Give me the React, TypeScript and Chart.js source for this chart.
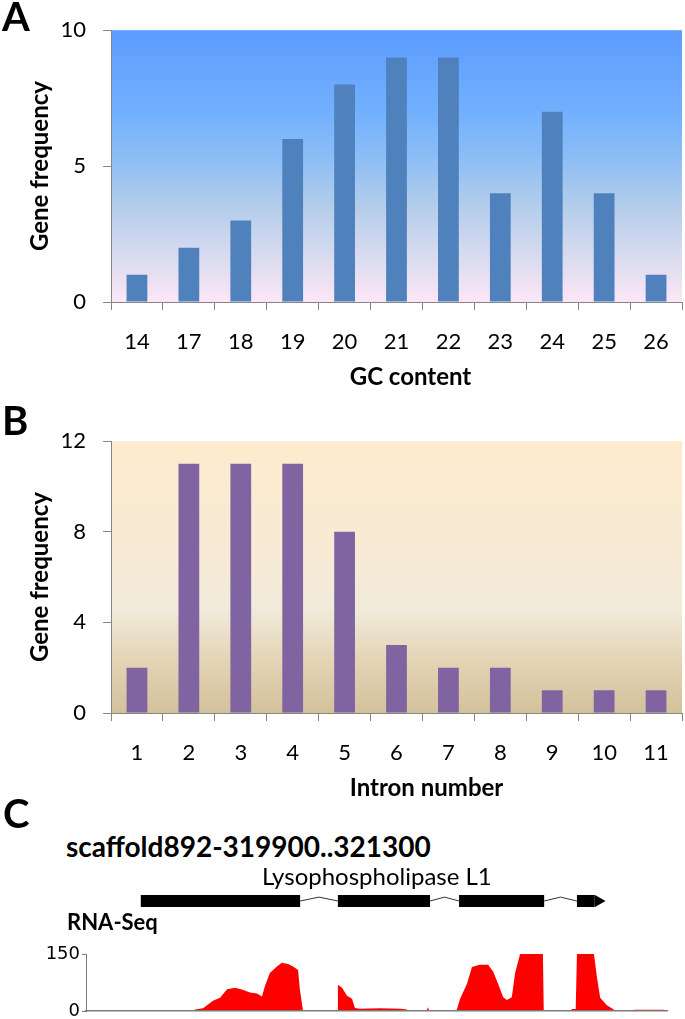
import React, { useEffect, useRef } from 'react';
import { Chart, registerables } from 'chart.js';

Chart.register(...registerables);

// ---------- Panel A data ----------
const gcContent = ['14', '17', '18', '19', '20', '21', '22', '23', '24', '25', '26'];
const gcGeneFrequency = [1, 2, 3, 6, 8, 9, 9, 4, 7, 4, 1];
const gcAxisMax = 10;
const gcAxisStep = 5;

// ---------- Panel B data ----------
const intronNumber = ['1', '2', '3', '4', '5', '6', '7', '8', '9', '10', '11'];
const intronGeneFrequency = [2, 11, 11, 11, 8, 3, 2, 2, 1, 1, 1];
const intronAxisMax = 12;
const intronAxisStep = 4;

// ---------- Panel C data ----------
const regionStart = 319900;
const regionEnd = 321300;
const exonStarts = [320032, 320507, 320799, 321083];
const exonEnds = [320416, 320729, 321004, 321126];
const arrowHeadPos = 321135;
const coverageMax = 150;
const coveragePos = [
  319900, 320160, 320163, 320182, 320206, 320223, 320240, 320259, 320278, 320295,
  320312, 320324, 320331, 320343, 320360, 320372, 320387, 320399, 320411, 320415,
  320423, 320505, 320507, 320517, 320529, 320541, 320548, 320560, 320608, 320657,
  320673, 320675, 320720, 320724, 320727, 320792, 320794, 320801, 320818, 320830,
  320849, 320869, 320881, 320893, 320905, 320914, 320926, 320934, 320946, 321001,
  321003, 321068, 321071, 321080, 321083, 321124, 321131, 321139, 321155, 321170,
  321175, 321218, 321220, 321293, 321295, 321300,
];
const coverageVal = [
  0, 0, 4, 7, 27, 35, 57, 61, 56, 49,
  46, 38, 65, 100, 117, 127, 124, 117, 108, 60,
  0, 0, 69, 61, 40, 32, 8, 6, 7, 6,
  4, 0, 0, 10, 0, 0, 5, 31, 72, 116,
  122, 122, 104, 72, 37, 29, 36, 100, 150, 150,
  0, 0, 5, 5, 150, 150, 90, 35, 15, 5,
  0, 0, 3, 3, 0, 0,
];

// ---------- styles ----------
const FONT = 'Lato';
const axisGray = '#868686';
const gcStops: [number, string][] = [
  [0, '#5c9cff'],
  [0.3, '#72b0fd'],
  [0.47, '#8cbef5'],
  [0.65, '#b4cdeb'],
  [0.85, '#dcdcf0'],
  [1, '#fce6f6'],
];
const intronStops: [number, string][] = [
  [0, '#fdebcd'],
  [0.45, '#f6ebd6'],
  [0.62, '#f1eada'],
  [0.8, '#e3d5b6'],
  [1, '#d3c19b'],
];

const bgGradient = {
  id: 'bgGradient',
  beforeDraw(chart: any, _args: any, opts: any) {
    const { ctx, chartArea } = chart;
    if (!chartArea || !opts || !opts.stops) return;
    const { left, top, right, bottom } = chartArea;
    const g = ctx.createLinearGradient(0, top, 0, bottom);
    opts.stops.forEach(([o, c]: [number, string]) => g.addColorStop(o, c));
    ctx.save();
    ctx.fillStyle = g;
    ctx.fillRect(left, top, right - left, bottom - top);
    ctx.restore();
  },
};

// x-axis title drawn under the category axis, shifted as in the original figure
const xAxisTitle = {
  id: 'xAxisTitle',
  afterDraw(chart: any, _args: any, opts: any) {
    if (!opts || !opts.text) return;
    const { ctx, chartArea } = chart;
    const s = chart.scales.x;
    ctx.save();
    ctx.font = `bold 24px ${FONT}`;
    ctx.fillStyle = '#000';
    ctx.textAlign = 'center';
    ctx.textBaseline = 'middle';
    ctx.fillText(opts.text, (chartArea.left + chartArea.right) / 2 + opts.shift, s.bottom - 23);
    ctx.restore();
  },
};

function barConfig(
  labels: string[],
  values: number[],
  color: string,
  yMax: number,
  yStep: number,
  xTitle: string,
  xTitleShift: number,
  stops: [number, string][]
): any {
  return {
    type: 'bar',
    data: {
      labels,
      datasets: [
        {
          data: values,
          backgroundColor: color,
          barPercentage: 0.8,
          categoryPercentage: 0.5,
        },
      ],
    },
    options: {
      animation: false,
      responsive: false,
      layout: { padding: { top: 21, right: 3, left: 0, bottom: 0 } },
      plugins: {
        legend: { display: false },
        tooltip: { enabled: false },
        bgGradient: { stops },
        xAxisTitle: { text: xTitle, shift: xTitleShift },
      },
      scales: {
        x: {
          grid: { offset: true, drawOnChartArea: false, tickLength: 8, color: axisGray },
          border: { color: axisGray, width: 1 },
          ticks: { color: '#000', font: { family: FONT, size: 22 }, padding: 19 },
          afterFit: (s: any) => {
            s.height = 98;
            s.paddingLeft = 0;
            s.paddingRight = 0;
          },
        },
        y: {
          min: 0,
          max: yMax,
          ticks: { stepSize: yStep, color: '#000', font: { family: FONT, size: 22 }, padding: 17 },
          grid: { drawOnChartArea: false, tickLength: 8, color: axisGray },
          border: { color: axisGray, width: 1 },
          title: {
            display: true,
            text: 'Gene frequency',
            color: '#000',
            font: { family: FONT, size: 24, weight: 'bold' },
            padding: { top: 26, bottom: 0 },
          },
          afterFit: (s: any) => {
            s.width = 111;
          },
        },
      },
    },
    plugins: [bgGradient, xAxisTitle],
  };
}

function geneConfig(): any {
  const exonPoints: any[] = [];
  const intronPoints: any[] = [];
  exonStarts.forEach((s, i) => {
    exonPoints.push({ x: s, y: 0 }, { x: exonEnds[i], y: 0 });
    if (i < exonStarts.length - 1) {
      const next = exonStarts[i + 1];
      exonPoints.push({ x: (exonEnds[i] + next) / 2, y: null });
      intronPoints.push(
        { x: exonEnds[i], y: 0 },
        { x: (exonEnds[i] + next) / 2, y: 0.3 },
        { x: next, y: 0 },
        { x: next + 1, y: null }
      );
    }
  });
  return {
    type: 'line',
    data: {
      datasets: [
        {
          data: intronPoints,
          borderColor: '#333333',
          borderWidth: 1,
          pointRadius: 0,
          spanGaps: false,
        },
        {
          data: exonPoints,
          borderColor: '#000000',
          borderWidth: 12,
          borderCapStyle: 'butt',
          pointRadius: 0,
          spanGaps: false,
        },
        {
          data: [{ x: arrowHeadPos, y: 0 }],
          showLine: false,
          pointStyle: 'triangle',
          rotation: 90,
          pointRadius: 7,
          backgroundColor: '#000000',
          borderColor: '#000000',
          borderWidth: 0,
        },
      ],
    },
    options: {
      animation: false,
      responsive: false,
      layout: { padding: { left: 86, right: 18, top: 0, bottom: 0 } },
      plugins: { legend: { display: false }, tooltip: { enabled: false } },
      scales: {
        x: { type: 'linear', display: false, min: regionStart, max: regionEnd },
        y: { type: 'linear', display: false, min: -1, max: 1 },
      },
    },
  };
}

function coverageConfig(): any {
  return {
    type: 'line',
    data: {
      datasets: [
        {
          data: coveragePos.map((x, i) => ({ x, y: coverageVal[i] })),
          fill: 'origin',
          backgroundColor: '#ff0000',
          borderColor: 'rgba(0,0,0,0)',
          borderWidth: 0,
          pointRadius: 0,
          tension: 0,
        },
      ],
    },
    options: {
      animation: false,
      responsive: false,
      layout: { padding: { top: 14, right: 18, left: 0, bottom: 0 } },
      plugins: { legend: { display: false }, tooltip: { enabled: false } },
      scales: {
        x: {
          type: 'linear',
          min: regionStart,
          max: regionEnd,
          ticks: { display: false },
          grid: { drawOnChartArea: false, drawTicks: false },
          border: { color: '#7a7a7a', width: 1.5, z: 1 },
          afterFit: (s: any) => {
            s.height = 8;
            s.paddingLeft = 0;
            s.paddingRight = 0;
          },
        },
        y: {
          min: 0,
          max: coverageMax,
          ticks: {
            stepSize: coverageMax,
            color: '#000',
            font: { family: 'DejaVu Sans', size: 18 },
            padding: 2,
          },
          grid: { drawOnChartArea: false, tickLength: 4, color: '#7a7a7a' },
          border: { color: '#7a7a7a', width: 1 },
          afterFit: (s: any) => {
            s.width = 86;
            s.paddingTop = 0;
            s.paddingBottom = 0;
          },
        },
      },
    },
  };
}

function ChartCanvas(props: { make: () => any; left: number; top: number; width: number; height: number }) {
  const ref = useRef<HTMLCanvasElement>(null);
  useEffect(() => {
    const chart = new Chart(ref.current as HTMLCanvasElement, props.make());
    return () => chart.destroy();
  }, []);
  return (
    <canvas
      ref={ref}
      width={props.width}
      height={props.height}
      style={{ position: 'absolute', left: props.left, top: props.top, width: props.width, height: props.height }}
    />
  );
}

function Label(props: { text: string; left: number; top: number; size: number; bold?: boolean }) {
  return (
    <div
      style={{
        position: 'absolute',
        left: props.left,
        top: props.top,
        fontFamily: FONT,
        fontSize: props.size,
        lineHeight: `${props.size}px`,
        fontWeight: props.bold ? 700 : 400,
        color: '#000',
        whiteSpace: 'nowrap',
      }}
    >
      {props.text}
    </div>
  );
}

export default function App() {
  return (
    <div style={{ position: 'absolute', left: 0, top: 0, width: 685, height: 1019, background: '#fff', overflow: 'hidden' }}>
      <ChartCanvas
        make={() => barConfig(gcContent, gcGeneFrequency, '#4f81bd', gcAxisMax, gcAxisStep, 'GC content', 14, gcStops)}
        left={0}
        top={0}
        width={685}
        height={400}
      />
      <ChartCanvas
        make={() =>
          barConfig(intronNumber, intronGeneFrequency, '#8064a2', intronAxisMax, intronAxisStep, 'Intron number', 30, intronStops)
        }
        left={0}
        top={411}
        width={685}
        height={400}
      />
      <ChartCanvas make={geneConfig} left={0} top={881} width={685} height={40} />
      <ChartCanvas make={coverageConfig} left={0} top={940} width={685} height={79} />
      <Label text="A" left={2} top={-4} size={40} bold />
      <Label text="B" left={2} top={400} size={40} bold />
      <Label text="C" left={3} top={793} size={40} bold />
      <Label text="scaffold892-319900..321300" left={66} top={832} size={28} bold />
      <Label text="Lysophospholipase L1" left={262} top={864} size={24} />
      <Label text="RNA-Seq" left={67} top={911} size={22} bold />
    </div>
  );
}
